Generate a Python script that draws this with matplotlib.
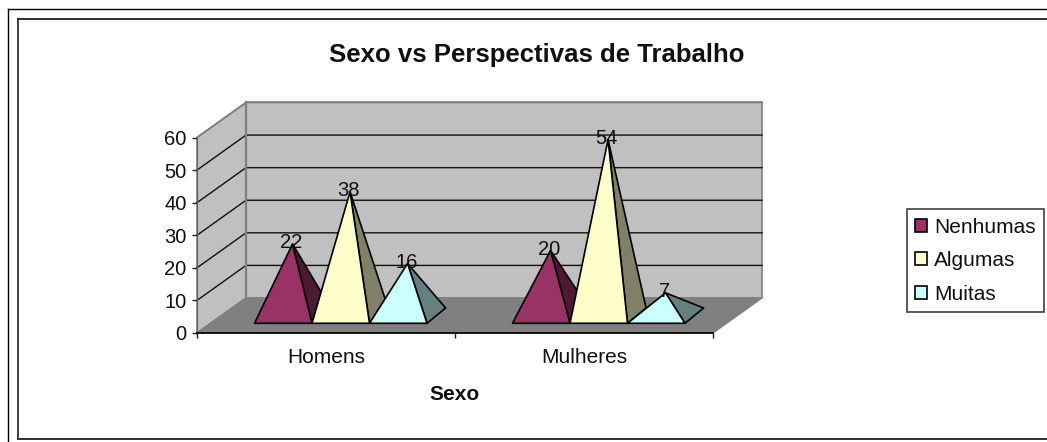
import matplotlib
matplotlib.use('Agg')
import matplotlib.pyplot as plt
from matplotlib.patches import Patch, Polygon
from matplotlib.lines import Line2D

plt.rcParams['font.family'] = ['Liberation Sans', 'DejaVu Sans']

# data
categories = ['Homens', 'Mulheres']
series_names = ['Nenhumas', 'Algumas', 'Muitas']
nenhumas = [22, 20]
algumas = [38, 54]
muitas = [16, 7]
y_ticks = [0, 10, 20, 30, 40, 50, 60]

front_colors = ['#993366', '#FFFFCC', '#CCFFFF']
side_colors = ['#4D1A33', '#808066', '#668080']

W, H = 1047, 442
fig = plt.figure(figsize=(W / 100, H / 100), dpi=100, facecolor='white')


def fx(px):
    return px / W


def fy(py):
    return 1 - py / H


# the two frames run off the right and bottom of the image
fig.add_artist(Line2D([fx(7.5), fx(7.5)], [0, fy(8.5)], color='black', lw=1))
fig.add_artist(Line2D([fx(7.5), 1], [fy(8.5), fy(8.5)], color='black', lw=1))
fig.add_artist(Line2D([fx(18), fx(18)], [fy(439), fy(18.5)], color='#404040', lw=1.4))
fig.add_artist(Line2D([fx(18), 1], [fy(18.5), fy(18.5)], color='#303030', lw=1.4))
fig.add_artist(Line2D([fx(18), 1], [fy(439), fy(439)], color='#303030', lw=1.4))

ax = fig.add_axes([fx(197), fy(333), fx(516), 195.5 / H])
ax.set_xlim(0, len(categories))
ax.set_ylim(0, 60)
ax.patch.set_visible(False)

# depth of the 3d box, in axis units
depth_x = 49 / 258
depth_y = 35 / 3.258
n_cat = len(categories)

ax.add_patch(Polygon([(0, 0), (depth_x, depth_y), (depth_x, 60 + depth_y), (0, 60)],
                     fc='#C0C0C0', ec='#808080', lw=1.2, clip_on=False, zorder=1))
ax.add_patch(Polygon([(depth_x, depth_y), (n_cat + depth_x, depth_y),
                      (n_cat + depth_x, 60 + depth_y), (depth_x, 60 + depth_y)],
                     fc='#C0C0C0', ec='#808080', lw=1.2, clip_on=False, zorder=1))
ax.add_patch(Polygon([(0, 0), (n_cat, 0), (n_cat + depth_x, depth_y), (depth_x, depth_y)],
                     fc='#808080', ec='#808080', lw=1, clip_on=False, zorder=2))

# gridlines on the side wall and the back wall
for t in y_ticks[1:-1]:
    ax.plot([0, depth_x, n_cat + depth_x], [t, t + depth_y, t + depth_y],
            color='#101010', lw=1, clip_on=False, zorder=1.5)
ax.plot([0, depth_x, n_cat + depth_x], [60, 60 + depth_y, 60 + depth_y],
        color='#808080', lw=1.2, clip_on=False, zorder=1.5)
ax.plot([depth_x, depth_x], [depth_y, 60 + depth_y], color='#808080', lw=1.6,
        clip_on=False, zorder=1.6)

# pyramids
bar_w = 57.5 / 258
gap_left = (254.5 - 197) / 258
pyr_dx = 18.6 / 258
pyr_dy = 15.3 / 3.258
base_y = (333 - 323.3) / 3.258
all_values = [nenhumas, algumas, muitas]

z = 3
for c in range(n_cat):
    for s, values in enumerate(all_values):
        v = values[c]
        x0 = c + gap_left + s * bar_w
        x1 = x0 + bar_w
        apex = ((x0 + x1) / 2 + pyr_dx / 2, base_y + pyr_dy / 2 + v)
        ax.add_patch(Polygon([(x1, base_y), (x1 + pyr_dx, base_y + pyr_dy), apex],
                             fc=side_colors[s], ec='black', lw=1.2, joinstyle='round',
                             clip_on=False, zorder=z))
        ax.add_patch(Polygon([(x0, base_y), (x1, base_y), apex],
                             fc=front_colors[s], ec='black', lw=1.2, joinstyle='round',
                             clip_on=False, zorder=z + 0.5))
        ax.text(apex[0] - 0.005, apex[1] + 0.4, str(v), ha='center', va='center',
                fontsize=14.5, color='#101010', zorder=20)
        z += 1

# axes
ax.set_yticks(y_ticks)
ax.set_xticks(range(n_cat + 1))
ax.set_xticklabels([])
ax.set_xticks([c + 0.5 for c in range(n_cat)], minor=True)
ax.set_xticklabels(categories, minor=True, fontsize=15, color='#101010')
ax.tick_params(axis='x', which='minor', length=0, pad=11)
ax.tick_params(axis='x', which='major', length=3.6, width=1, color='#202020')
ax.tick_params(axis='y', length=3.6, width=1, labelsize=14.5, labelcolor='#101010',
               color='#202020', pad=4)
ax.spines['top'].set_visible(False)
ax.spines['right'].set_visible(False)
ax.spines['left'].set_color('#606060')
ax.spines['bottom'].set_color('black')
ax.spines['bottom'].set_linewidth(1.2)
ax.spines['left'].set_zorder(2.5)
ax.spines['bottom'].set_zorder(2.5)

fig.text(fx(537), fy(55), 'Sexo vs Perspectivas de Trabalho', ha='center', va='center',
         fontsize=18.5, fontweight='bold', color='#101010')
fig.text(fx(455), fy(395), 'Sexo', ha='center', va='center', fontsize=15,
         fontweight='bold', color='#101010')

handles = [Patch(facecolor=c, edgecolor='black', lw=1.2) for c in front_colors]
leg = fig.legend(handles, series_names, loc='upper left',
                 bbox_to_anchor=(fx(906.5), fy(209)), fontsize=15, frameon=True,
                 fancybox=False, edgecolor='#404040', framealpha=1, borderaxespad=0,
                 handlelength=0.58, handleheight=0.58, handletextpad=0.34,
                 labelspacing=0.7, borderpad=0.41, labelcolor='#101010')
leg.get_frame().set_linewidth(1.2)

plt.savefig('out.png', dpi=100)
